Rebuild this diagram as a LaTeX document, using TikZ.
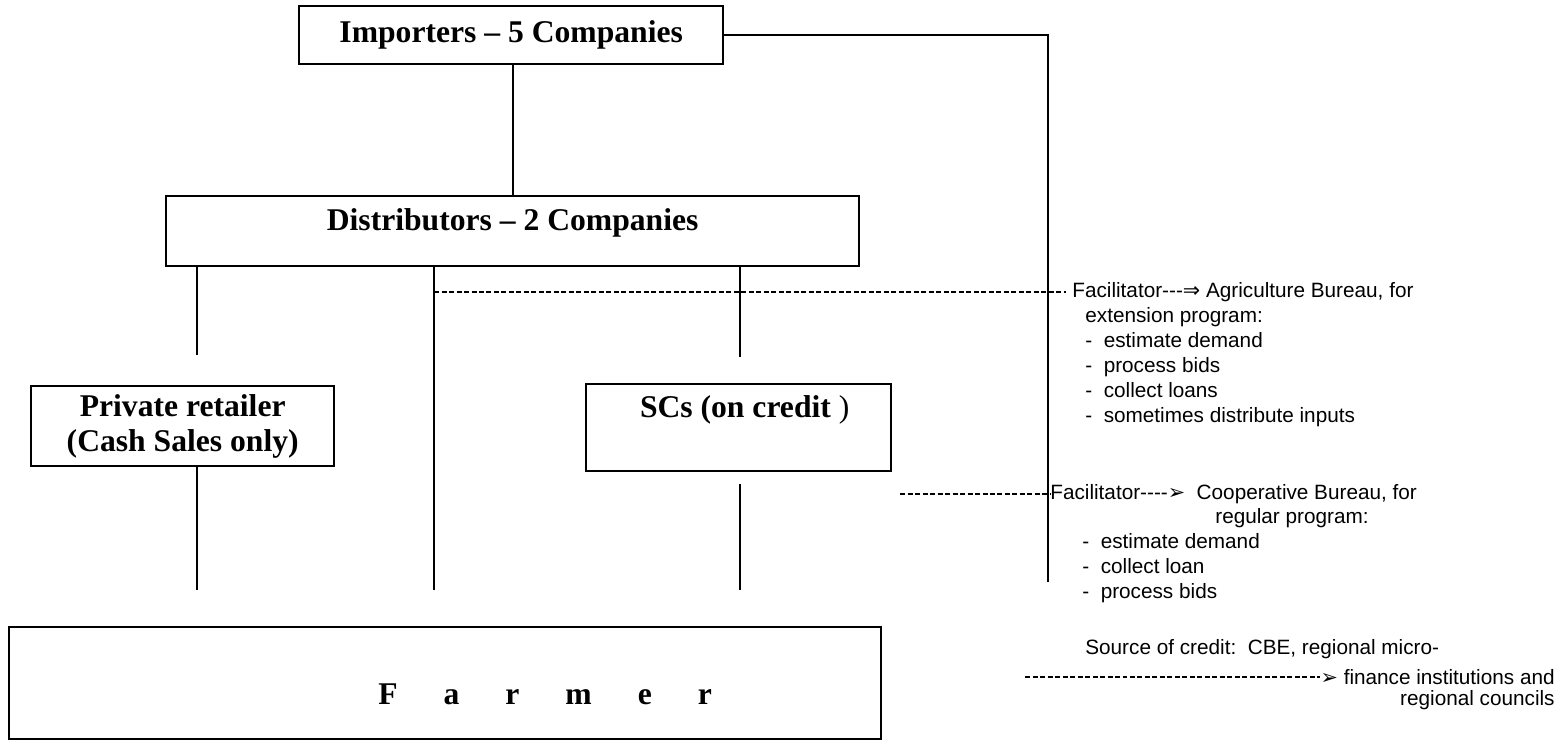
\documentclass[tikz,border=0pt]{standalone}
\usepackage{fontspec}
\setmainfont{Liberation Serif}
\setsansfont{Liberation Sans}
\newfontfamily\symfont{DejaVu Sans}
\usetikzlibrary{arrows}
\newcommand{\hy}{\mbox{-}}
\newcommand{\fsp}{\hspace{0.92cm}}

\begin{document}
\begin{tikzpicture}[x = 0.02cm, y = -0.02cm,
  box/.style = {draw, line width = 1.4pt, rectangle, inner sep = 0pt, anchor = north west,
    font = \bfseries\fontsize{18}{20}\selectfont},
  link/.style = {line width = 1.1pt},
  dots/.style = {line width = 0.9pt, dash pattern = on 0.1cm off 0.05cm},
  note/.style = {inner sep = 0pt, align = left, font = \sffamily\fontsize{11.8}{14.2}\selectfont}]
\useasboundingbox (0,0) rectangle (1565,741);

\node [box, minimum width = 8.48cm, minimum height = 1.16cm] (imp) at (298,5) {Importers – 5 Companies};
\node [box, minimum width = 13.86cm, text height = 0.68cm, text depth = 0.72cm] (dist) at (165,195) {Distributors – 2 Companies};
\node [box, minimum width = 6.06cm, minimum height = 1.6cm, align = center] (ret) at (30,385) {Private retailer\\(Cash Sales only)};
\node [box, minimum width = 6.1cm, text height = 0.66cm, text depth = 1.08cm] (sc) at (585,383) {\hspace*{0.24cm}SCs (on credit {\mdseries )}};
\node [box, minimum width = 17.44cm, minimum height = 2.24cm, text height = 0.86cm] (farm) at (8,626)
  {\hspace*{4.0cm}F\fsp a\fsp r\fsp m\fsp e\fsp r};

\coordinate (colA) at (197,0);
\coordinate (colB) at (434,0);
\coordinate (colC) at (740,0);
\coordinate (bus) at (1048,0);

\draw [link] (dist.north) -- (imp.south -| dist.north);
\draw [link, shorten >= 0.88cm] (imp.east) -| (farm.north -| bus);
\draw [link, shorten >= 0.6cm] (dist.south -| colA) -- (ret.north -| colA);
\draw [link, shorten >= 0.72cm] (ret.south -| colA) -- (farm.north -| colA);
\draw [link, shorten >= 0.72cm] (dist.south -| colB) -- (farm.north -| colB);
\draw [link, shorten >= 0.52cm] (dist.south -| colC) -- (sc.north -| colC);
\draw [link, shorten <= 0.24cm, shorten >= 0.72cm] (sc.south -| colC) -- (farm.north -| colC);

% agriculture bureau
\node [note, anchor = west] (agri) at (1072,292) {Facilitator\hy\hy\hy{\symfont ⇒} Agriculture Bureau, for};
\node [note, anchor = north west] (agrilist) at (1085,307)
  {extension program:\\ -\ \ estimate demand\\ -\ \ process bids\\ -\ \ collect loans\\ -\ \ sometimes distribute inputs};
\draw [dots, shorten >= 0.12cm] (colB |- agri.west) -- (agri.west);

% cooperative bureau
\coordinate (coopstart) at (900,494);
\node [note, anchor = west] (coop) at (1050,494) {Facilitator\hy\hy\hy\hy{\symfont ➢}\ \ Cooperative Bureau, for};
\node [note, anchor = north west] (coopprog) at (1215,508) {regular program:};
\node [note, anchor = north west] (cooplist) at (1082,533)
  {-\ \ estimate demand\\ -\ \ collect loan\\ -\ \ process bids};
\draw [dots] (coopstart) -- (coop.west);

% credit
\node [note, anchor = north west] (src) at (1085,639) {Source of credit:\ \ CBE, regional micro-};
\node [note, anchor = east] (fin) at (1555,677) {{\symfont ➢} finance institutions and};
\node [note, anchor = north east] (coun) at (1555,690) {regional councils};
\coordinate (srcstart) at (1025,677);
\draw [dots] (srcstart) -- (fin.west);
\end{tikzpicture}
\end{document}
